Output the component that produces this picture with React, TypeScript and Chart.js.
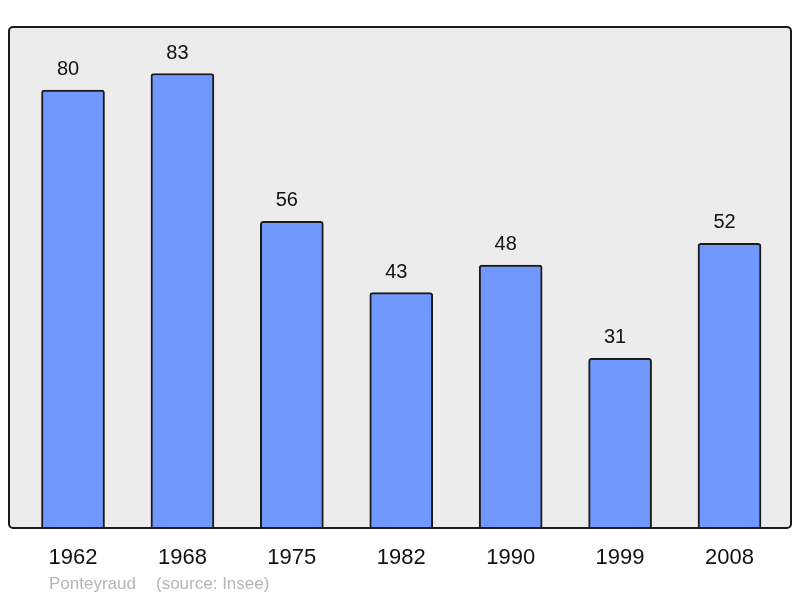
import React, { useEffect, useRef } from "react";
import { Chart, registerables } from "chart.js";

Chart.register(...registerables);

const years = ["1962", "1968", "1975", "1982", "1990", "1999", "2008"];
const population = [80, 83, 56, 43, 48, 31, 52];
const footerName = "Ponteyraud";
const footerSource = "(source: Insee)";

const FONT = "'Liberation Sans', Arial, sans-serif";

const framePlugin = {
  id: "frame",
  beforeDatasetsDraw(chart: any) {
    const { ctx, chartArea: a } = chart;
    ctx.save();
    ctx.beginPath();
    ctx.roundRect(a.left, a.top, a.right - a.left, a.bottom - a.top, 4);
    ctx.fillStyle = "#ececec";
    ctx.fill();
    ctx.restore();
  },
  afterDatasetsDraw(chart: any) {
    const { ctx, chartArea: a } = chart;
    ctx.save();
    ctx.beginPath();
    ctx.roundRect(a.left, a.top, a.right - a.left, a.bottom - a.top, 4);
    ctx.lineWidth = 2;
    ctx.strokeStyle = "#1a1a1a";
    ctx.stroke();
    // value labels
    const meta = chart.getDatasetMeta(0);
    ctx.font = `20px ${FONT}`;
    ctx.fillStyle = "#111";
    ctx.textAlign = "center";
    ctx.textBaseline = "alphabetic";
    meta.data.forEach((bar: any, i: number) => {
      ctx.fillText(String(population[i]), bar.x - 5, bar.y - 15);
    });
    // footer
    ctx.font = `17px ${FONT}`;
    ctx.fillStyle = "#b5b5b5";
    ctx.textAlign = "left";
    ctx.fillText(footerName, 49, 589);
    ctx.fillText(footerSource, 156, 589);
    ctx.restore();
  },
};

export default function App() {
  const ref = useRef<HTMLCanvasElement | null>(null);
  useEffect(() => {
    document.body.style.margin = "0";
    const chart = new Chart(ref.current as HTMLCanvasElement, {
      type: "bar",
      data: {
        datasets: [
          {
            data: population.map((v, i) => ({ x: i, y: v })),
            backgroundColor: "#7098ff",
            borderColor: "#1a1a1a",
            borderWidth: 2,
            borderRadius: 3,
            barThickness: 63,
          },
        ],
      },
      options: {
        animation: false,
        responsive: false,
        layout: { padding: { left: 9, right: 9, top: 27, bottom: 0 } },
        plugins: { legend: { display: false }, tooltip: { enabled: false } },
        scales: {
          x: {
            type: "linear",
            offset: false,
            min: -0.585,
            max: 6.562,
            grid: { display: false, drawTicks: false, offset: false },
            border: { display: false },
            afterBuildTicks: (scale: any) => {
              scale.ticks = years.map((_, i) => ({ value: i }));
            },
            afterFit: (scale: any) => {
              scale.height = 70;
            },
            ticks: {
              autoSkip: false,
              maxRotation: 0,
              padding: 17,
              color: "#111",
              font: { size: 22, family: FONT },
              callback: (v: any) => years[v] ?? "",
            },
          },
          y: { display: false, min: 0, max: 91.5 },
        },
      },
      plugins: [framePlugin],
    } as any);
    return () => chart.destroy();
  }, []);
  return (
    <div style={{ position: "absolute", left: 0, top: 0, width: 800, height: 598, background: "#fff" }}>
      <canvas ref={ref} width={800} height={598} />
    </div>
  );
}
